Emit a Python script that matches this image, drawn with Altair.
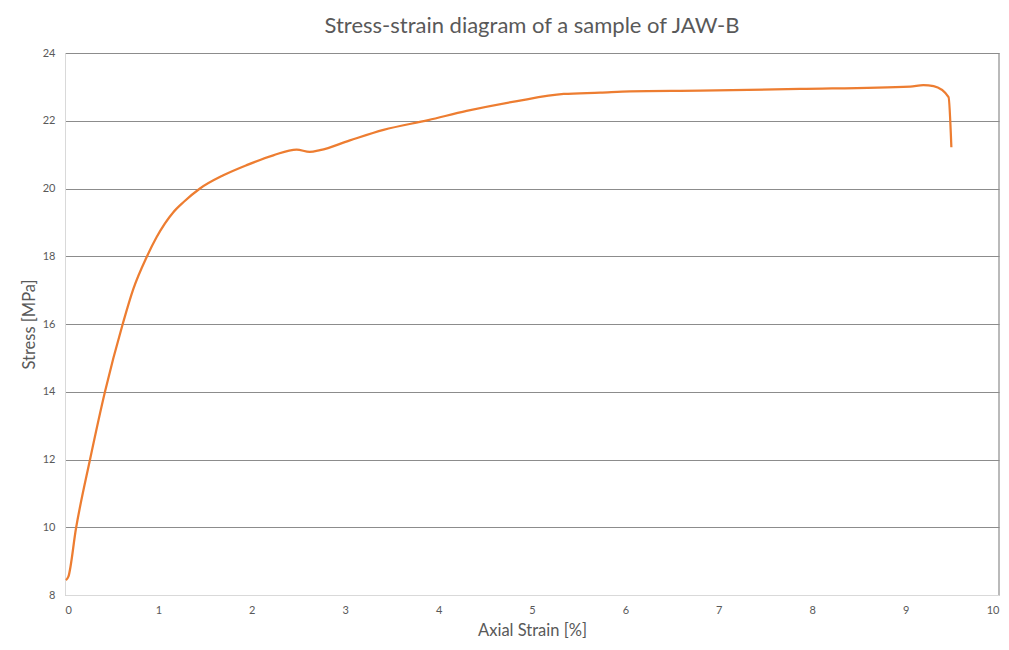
import altair as alt
import pandas as pd

strain = [0.01, 0.036, 0.118, 0.268, 0.428, 0.618, 0.731, 0.875, 0.98, 1.16, 1.27,
          1.445, 1.695, 1.945, 2.23, 2.48, 2.62, 2.73, 3.05, 3.41, 3.89, 4.30, 4.84,
          5.34, 5.73, 6.05, 6.8, 7.87, 9.05, 9.19, 9.30, 9.46, 9.49]
stress = [8.44, 8.54, 9.97, 12.0, 14.0, 16.0, 17.03, 17.98, 18.56, 19.3, 19.6,
          20.0, 20.39, 20.69, 20.98, 21.15, 21.08, 21.13, 21.42, 21.73, 22.02, 22.29, 22.58,
          22.79, 22.83, 22.87, 22.89, 22.94, 23.01, 23.05, 23.02, 22.70, 21.22]

df = pd.DataFrame({"strain": strain, "stress": stress})

FONT = "Lato"
GRAY = "#595959"

line = alt.Chart(df).mark_line(color="#ED7D31", strokeWidth=2.25, interpolate="monotone").encode(
    x=alt.X("strain:Q", scale=alt.Scale(domain=[0, 10], nice=False),
            axis=alt.Axis(title="Axial Strain [%]", values=list(range(0, 11)), format="d",
                          grid=False, domainColor="#d9d9d9", ticks=False, labelPadding=9,
                          titlePadding=7)),
    y=alt.Y("stress:Q", scale=alt.Scale(domain=[8, 24], nice=False, zero=False),
            axis=alt.Axis(title="Stress [MPa]", values=list(range(8, 25, 2)), format="d",
                          grid=True, gridColor="#8c8c8c", gridWidth=1.2, domainColor="#d9d9d9",
                          ticks=False, labelPadding=10, titlePadding=5)),
)

right_edge = alt.Chart(pd.DataFrame({"x": [10]})).mark_rule(color="#8c8c8c", strokeWidth=1.2).encode(
    x="x:Q"
)

chart = alt.layer(line, right_edge).properties(
    width=934, height=542,
    title=alt.TitleParams("Stress-strain diagram of a sample of JAW-B", fontSize=22,
                          font=FONT, fontWeight="normal", color=GRAY, anchor="middle",
                          offset=9),
    autosize=alt.AutoSizeParams(type="none"),
    padding={"left": 57, "top": 45, "right": 2, "bottom": 45},
).configure_view(stroke=None).configure_axis(
    labelFont=FONT, titleFont=FONT, labelColor=GRAY, titleColor=GRAY,
    labelFontSize=11, titleFontSize=16.5, titleFontWeight="normal",
)

chart.save("out.html", embed_options={"renderer": "svg", "actions": False})
